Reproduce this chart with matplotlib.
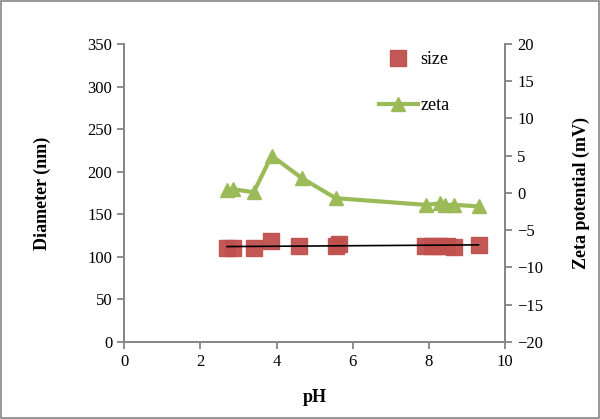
import matplotlib
matplotlib.use("Agg")
import matplotlib.pyplot as plt
import numpy as np
from matplotlib.patches import Rectangle

plt.rcParams['font.family'] = ['Liberation Serif', 'DejaVu Serif']

# data
size_ph = [2.70, 2.86, 3.40, 3.85, 4.59, 5.55, 5.64, 7.89, 8.07, 8.29, 8.46, 8.66, 9.30]
size_nm = [110, 110, 110, 118, 113, 113, 114.5, 113, 113, 113, 113, 111, 114]
zeta_ph = [2.70, 2.86, 3.40, 3.87, 4.66, 5.55, 7.92, 8.29, 8.42, 8.66, 9.30]
zeta_mv = [0.4, 0.5, 0.1, 5.0, 2.0, -0.7, -1.6, -1.4, -1.6, -1.6, -1.8]
trend_ph = [2.70, 9.30]
trend_nm = [112, 114]

x_ticks = [0, 2, 4, 6, 8, 10]
left_ticks = [0, 50, 100, 150, 200, 250, 300, 350]
right_ticks = [-20, -15, -10, -5, 0, 5, 10, 15, 20]

red = '#C0504D'
green = '#9BBB59'
gray = '#868686'

fig = plt.figure(figsize=(6.0, 4.19), dpi=100)
ax = fig.add_axes([0.207, 0.184, 0.635, 0.711])
ax2 = ax.twinx()

sq, = ax.plot(size_ph, size_nm, linestyle='none', marker='s', markersize=11,
              color=red, alpha=0.95, label='size', zorder=3)
ax.plot(trend_ph, trend_nm, color='black', linewidth=1.2, zorder=4)
zl, = ax2.plot(zeta_ph, zeta_mv, color=green, linewidth=3, marker='^',
               markersize=10, label='zeta')

ax.set_xlim(0, 10)
ax.set_ylim(0, 350)
ax2.set_ylim(-20, 20)
ax.set_xticks(x_ticks)
ax.set_yticks(left_ticks)
ax2.set_yticks(right_ticks)

for a in (ax, ax2):
    for s in a.spines.values():
        s.set_color(gray)
        s.set_linewidth(1.3)
    a.tick_params(colors=gray, labelcolor='black', labelsize=12, length=5, width=1.3)
ax.spines['top'].set_visible(False)
ax2.spines['top'].set_visible(False)

ax.set_xlabel('pH', fontsize=13, fontweight='bold', labelpad=14)
ax.set_ylabel('Diameter (nm)', fontsize=13, fontweight='bold', labelpad=26)
ax2.set_ylabel('Zeta potential (mV)', fontsize=13, fontweight='bold', labelpad=21)

ax2.legend([sq, zl], ['size', 'zeta'], loc='upper left', bbox_to_anchor=(0.625, 1.03),
           frameon=False, fontsize=13, labelspacing=1.6, handlelength=2.2,
           handletextpad=0.1)

fig.patches.append(Rectangle((0.002, 0.002), 0.996, 0.996, transform=fig.transFigure,
                             fill=False, edgecolor=gray, linewidth=1.2))

fig.savefig('out.png', dpi=100)
